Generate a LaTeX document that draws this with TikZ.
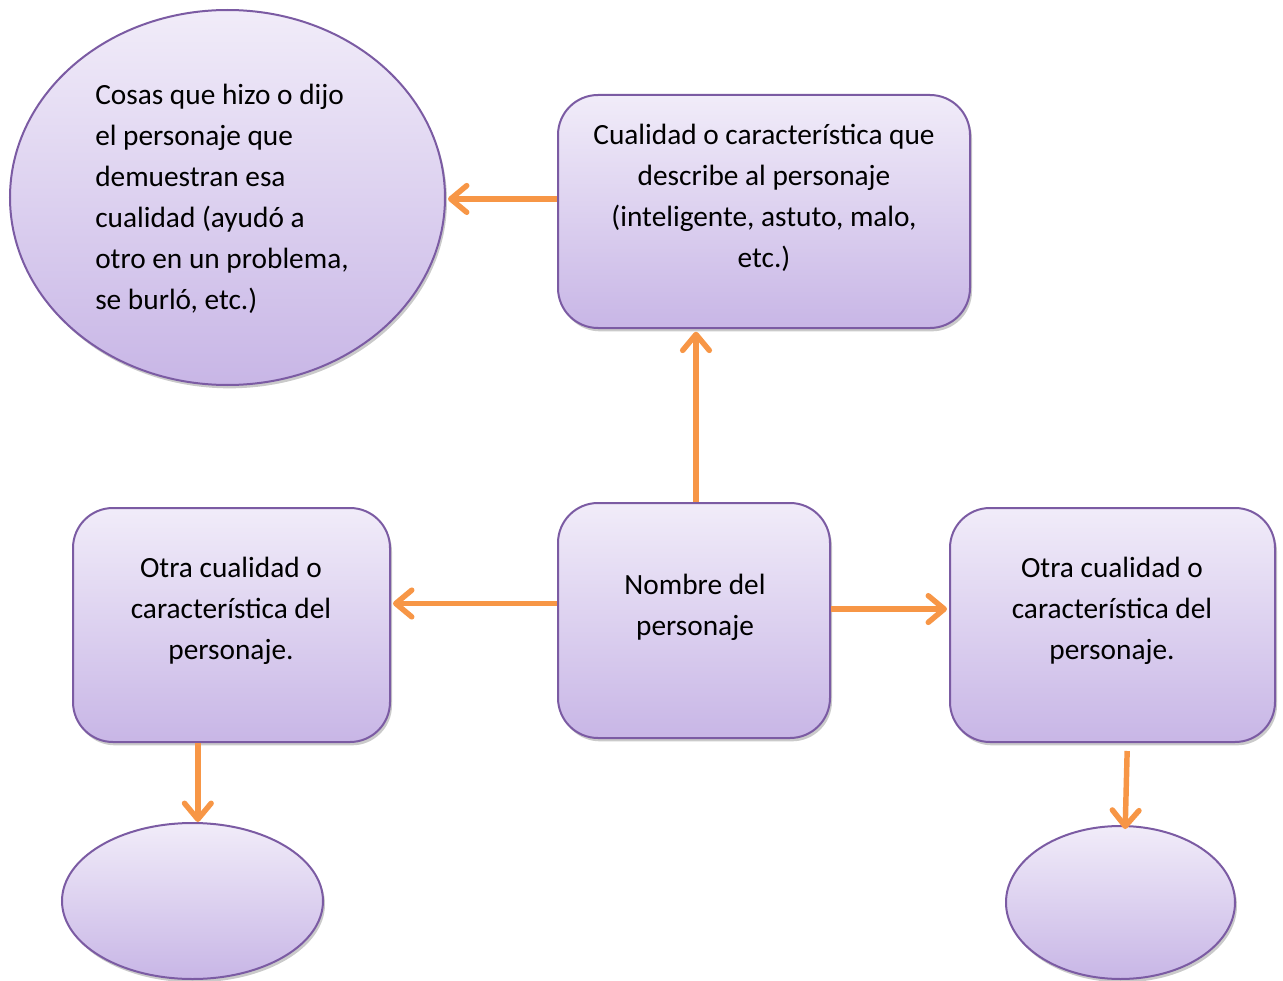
\documentclass[tikz,border=0pt]{standalone}
\usepackage{fontspec}
\setmainfont{Carlito}
\usetikzlibrary{arrows.meta,shadows,shapes.geometric,calc}
\definecolor{arrowor}{HTML}{F79646}
\definecolor{edgepur}{HTML}{7B5BA3}
\definecolor{filltop}{HTML}{F1ECF9}
\definecolor{fillbot}{HTML}{C8B6E6}
\begin{document}
\begin{tikzpicture}[x=0.75pt,y=-0.75pt,
  shapebase/.style={draw=edgepur,line width=1.5pt,top color=filltop,bottom color=fillbot,
    drop shadow={opacity=0.35,shadow xshift=1.5pt,shadow yshift=-2.5pt,fill=black!60}},
  rbox/.style={shapebase,rectangle,rounded corners=30pt,inner sep=0pt},
  ell/.style={shapebase,ellipse,inner sep=0pt},
  txt/.style={font=\fontsize{22pt}{30.75pt}\selectfont,align=center,text=black,inner sep=0pt},
  arr/.style={draw=arrowor,line width=4.1pt,-{Straight Barb[round,length=12pt,width=20pt]}}]
\useasboundingbox (0,0) rectangle (1283,981);
% shapes
\node[ell,minimum width=326.25pt,minimum height=281.25pt] (big) at (227.5,197.5) {};
\node[rbox,minimum width=309pt,minimum height=174.75pt] (top) at (764,211.5) {};
\node[rbox,minimum width=204pt,minimum height=176.25pt] (cen) at (694,620.5) {};
\node[rbox,minimum width=237.75pt,minimum height=175.5pt] (lft) at (231.5,625) {};
\node[rbox,minimum width=243.75pt,minimum height=175.5pt] (rgt) at (1112.5,625) {};
\node[ell,minimum width=195.75pt,minimum height=117pt] (bl) at (192.5,901) {};
\node[ell,minimum width=171.75pt,minimum height=114.75pt] (br) at (1120.5,902.5) {};
% texts
\node[txt,align=left,anchor=west] (tbig) at (95,199) {Cosas que hizo o dijo\\el personaje que\\demuestran esa\\cualidad (ayudó a\\otro en un problema,\\se burló, etc.)};
\node[txt] (ttop) at (764,198) {Cualidad o característica que\\describe al personaje\\(inteligente, astuto, malo,\\etc.)};
\node[txt] (tcen) at (695,607) {Nombre del\\personaje};
\node[txt] (tlft) at (231,611) {Otra cualidad o\\característica del\\personaje.};
\node[txt] (trgt) at (1112,611) {Otra cualidad o\\característica del\\personaje.};
% connectors
\coordinate (a1) at ([yshift=9.4pt]top.west);
\draw[arr] (a1) -- ([xshift=1.5pt]a1 -| big.east);
\coordinate (a2) at ([xshift=1.5pt]cen.north);
\draw[arr] (a2) -- ([yshift=-2pt]a2 |- top.south);
\coordinate (a3) at ([yshift=12.75pt]cen.west);
\draw[arr] (a3) -- ([xshift=1.5pt]a3 -| lft.east);
\coordinate (a4) at ([yshift=8.6pt]cen.east);
\draw[arr] (a4) -- ([xshift=-1.5pt]a4 -| rgt.west);
\coordinate (a5) at ([xshift=4pt]lft.south -| bl.north);
\draw[arr] (a5) -- ([xshift=4pt]bl.north);
\coordinate (a6) at ([xshift=5pt,yshift=-6pt]rgt.south -| br.north);
\draw[arr] (a6) -- ([xshift=3.5pt,yshift=-3pt]br.north);
\end{tikzpicture}
\end{document}
